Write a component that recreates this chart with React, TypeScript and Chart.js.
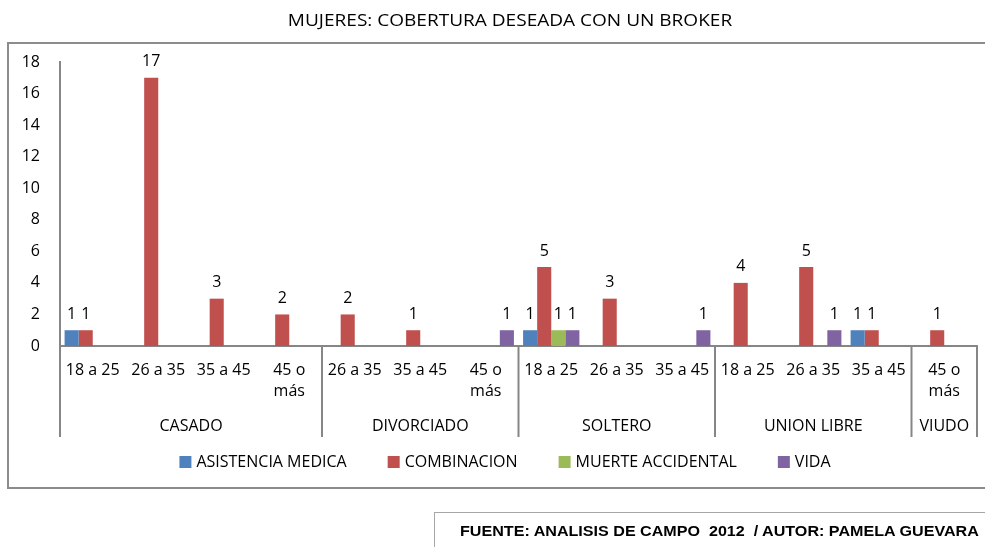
import { useEffect, useRef } from "react";
import { Chart, registerables } from "chart.js";

Chart.register(...registerables);

const TITLE = "MUJERES: COBERTURA DESEADA CON UN BROKER";
const FOOTER = "FUENTE: ANALISIS DE CAMPO  2012  / AUTOR: PAMELA GUEVARA";

const CATEGORIES: (string | string[])[] = [
  "18 a 25", "26 a 35", "35 a 45", ["45 o", "más"],
  "26 a 35", "35 a 45", ["45 o", "más"],
  "18 a 25", "26 a 35", "35 a 45",
  "18 a 25", "26 a 35", "35 a 45",
  ["45 o", "más"],
];
const GROUPS = ["CASADO", "DIVORCIADO", "SOLTERO", "UNION LIBRE", "VIUDO"];
const GROUP_SIZES = [4, 3, 3, 3, 1];

const SERIES_NAMES = ["ASISTENCIA MEDICA", "COMBINACION", "MUERTE ACCIDENTAL", "VIDA"];
const SERIES_COLORS = ["#4F81BD", "#C0504D", "#9BBB59", "#8064A2"];

const ASISTENCIA_MEDICA = [1, null, null, null, null, null, null, 1, null, null, null, null, 1, null];
const COMBINACION = [1, 17, 3, 2, 2, 1, null, 5, 3, null, 4, 5, 1, 1];
const MUERTE_ACCIDENTAL = [null, null, null, null, null, null, null, 1, null, null, null, null, null, null];
const VIDA = [null, null, null, null, null, null, 1, 1, null, 1, null, 1, null, null];

const Y_MIN = 0;
const Y_MAX = 18;
const Y_STEP = 2;

const FONT = "'Open Sans', sans-serif";
const AXIS_COLOR = "#868686";

const decorPlugin = {
  id: "decor",
  beforeDraw(chart: any) {
    const ctx = chart.ctx;
    ctx.save();
    ctx.fillStyle = "#fff";
    ctx.fillRect(0, 0, chart.width, chart.height);
    ctx.strokeStyle = "#8c8c8c";
    ctx.lineWidth = 2;
    ctx.strokeRect(8, 43, 1000, 445);
    ctx.fillStyle = "#000";
    ctx.font = `16px ${FONT}`;
    ctx.textAlign = "center";
    ctx.textBaseline = "middle";
    ctx.translate(510, 21);
    ctx.scale(1.19, 1);
    ctx.fillText(TITLE, 0, 0);
    ctx.restore();
  },
  afterDraw(chart: any) {
    const ctx = chart.ctx;
    const xs = chart.scales.x;
    const area = chart.chartArea;
    const step = xs.getPixelForValue(1) - xs.getPixelForValue(0);
    ctx.save();
    ctx.strokeStyle = AXIS_COLOR;
    ctx.lineWidth = 2;
    let idx = 0;
    const bounds: number[] = [xs.getPixelForValue(0) - step / 2];
    GROUP_SIZES.forEach((n) => {
      idx += n;
      bounds.push(xs.getPixelForValue(idx - 1) + step / 2);
    });
    bounds.forEach((bx) => {
      ctx.beginPath();
      ctx.moveTo(bx, area.bottom);
      ctx.lineTo(bx, area.bottom + 91);
      ctx.stroke();
    });
    ctx.fillStyle = "#000";
    ctx.font = `16px ${FONT}`;
    ctx.textAlign = "center";
    ctx.textBaseline = "middle";
    GROUPS.forEach((g, i) => {
      ctx.fillText(g, (bounds[i] + bounds[i + 1]) / 2, area.bottom + 80);
    });
    const box = 12;
    const gap = 5;
    const spacing = 41;
    const widths = chart.data.datasets.map((d: any) => ctx.measureText(d.label).width);
    const total = widths.reduce((a: number, w: number) => a + box + gap + w, 0) + spacing * (widths.length - 1);
    let x = 505 - total / 2;
    const ly = 462;
    ctx.textAlign = "left";
    chart.data.datasets.forEach((d: any, i: number) => {
      ctx.fillStyle = d.backgroundColor;
      ctx.fillRect(x, ly - box / 2, box, box);
      ctx.fillStyle = "#000";
      ctx.fillText(d.label, x + box + gap, ly);
      x += box + gap + widths[i] + spacing;
    });
    ctx.restore();
  },
  afterDatasetsDraw(chart: any) {
    const ctx = chart.ctx;
    ctx.save();
    ctx.fillStyle = "#000";
    ctx.font = `16px ${FONT}`;
    ctx.textAlign = "center";
    ctx.textBaseline = "middle";
    chart.data.datasets.forEach((d: any, di: number) => {
      const meta = chart.getDatasetMeta(di);
      meta.data.forEach((el: any, i: number) => {
        const v = d.data[i];
        if (v === null || v === undefined) return;
        ctx.fillText(String(v), el.x, el.y - 16);
      });
    });
    ctx.restore();
  },
};

export default function App() {
  const ref = useRef<HTMLCanvasElement>(null);
  useEffect(() => {
    const seriesData = [ASISTENCIA_MEDICA, COMBINACION, MUERTE_ACCIDENTAL, VIDA];
    const chart = new Chart(ref.current as HTMLCanvasElement, {
      type: "bar",
      data: {
        labels: CATEGORIES as any,
        datasets: SERIES_NAMES.map((name, i) => ({
          label: name,
          data: seriesData[i] as any,
          backgroundColor: SERIES_COLORS[i],
          borderWidth: 0,
          categoryPercentage: 0.86,
          barPercentage: 1,
        })),
      },
      options: {
        responsive: false,
        animation: false,
        layout: { padding: { left: 8, right: 8, top: 62, bottom: 110 } },
        plugins: {
          legend: { display: false },
          tooltip: { enabled: false },
          title: { display: false },
        },
        scales: {
          x: {
            grid: { display: false, drawTicks: false },
            border: { display: true, color: AXIS_COLOR, width: 2 },
            ticks: {
              autoSkip: false,
              maxRotation: 0,
              minRotation: 0,
              padding: 14,
              color: "#000",
              font: { family: FONT, size: 16, lineHeight: 1.3 },
            },
            afterFit: (s: any) => {
              s.height = 91;
            },
          },
          y: {
            min: Y_MIN,
            max: Y_MAX,
            grid: { display: false, drawTicks: false },
            border: { display: true, color: AXIS_COLOR, width: 2 },
            ticks: {
              stepSize: Y_STEP,
              padding: 20,
              color: "#000",
              font: { family: FONT, size: 16 },
            },
            afterFit: (s: any) => {
              s.width = 52;
            },
          },
        },
      },
      plugins: [decorPlugin],
    });
    return () => chart.destroy();
  }, []);
  return (
    <div style={{ position: "fixed", left: 0, top: 0, width: 985, height: 547, background: "#fff", overflow: "hidden" }}>
      <canvas ref={ref} width={985} height={547} style={{ position: "absolute", left: 0, top: 0, width: 985, height: 547 }} />
      <div
        style={{
          position: "absolute",
          left: 434,
          top: 512,
          width: 700,
          height: 80,
          border: "1px solid #a6a6a6",
          boxSizing: "border-box",
        }}
      >
        <span
          style={{
            position: "absolute",
            left: 25,
            top: 10,
            font: "bold 14px 'Liberation Sans', Arial, sans-serif",
            lineHeight: "16px",
            whiteSpace: "pre",
            color: "#000",
            transform: "scaleX(1.15)",
            transformOrigin: "left center",
          }}
        >
          {FOOTER}
        </span>
      </div>
    </div>
  );
}
